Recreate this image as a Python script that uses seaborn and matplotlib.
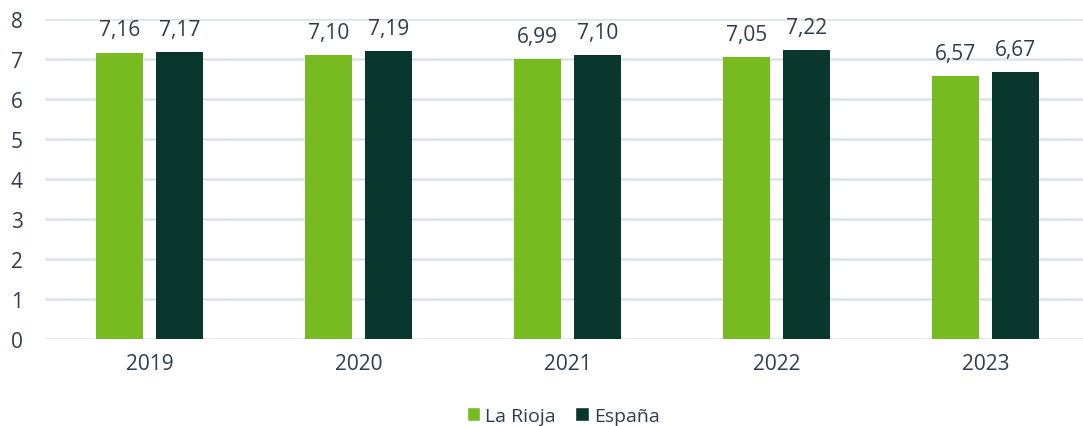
import matplotlib
matplotlib.use("Agg")
import matplotlib.pyplot as plt
import seaborn as sns
import pandas as pd
from matplotlib.patches import Patch

years = ["2019", "2020", "2021", "2022", "2023"]
la_rioja = [7.16, 7.10, 6.99, 7.05, 6.57]
espana = [7.17, 7.19, 7.10, 7.22, 6.67]
series_names = ["La Rioja", "España"]
colors = ["#78BB21", "#0A372D"]
text_color = "#2E3D4D"

df = pd.DataFrame({
    "year": years * 2,
    "value": la_rioja + espana,
    "serie": [series_names[0]] * len(years) + [series_names[1]] * len(years),
})

sns.set_theme(style="white")
plt.rcParams['font.family'] = ['Open Sans', 'DejaVu Sans']

fig = plt.figure(figsize=(10.83, 4.27), dpi=100)
ax = fig.add_axes([45 / 1083, 87 / 427, 1045 / 1083, 320 / 427])

sns.barplot(data=df, x="year", y="value", hue="serie", palette=colors,
            width=0.574, gap=0.217, ax=ax, legend=False, saturation=1,
            edgecolor="none", linewidth=0)

ax.set_ylim(0, 8)
ax.set_xlim(-0.5, 4.5)
ax.set_yticks(range(0, 9))
ax.yaxis.grid(True, color="#DCE3EA", linewidth=1.8)
ax.set_axisbelow(True)
for s in ax.spines.values():
    s.set_visible(False)
ax.set_xlabel("")
ax.set_ylabel("")
ax.tick_params(axis="both", length=0, labelsize=15, colors=text_color)
ax.tick_params(axis="y", pad=16)
ax.tick_params(axis="x", pad=10)

for cont in ax.containers:
    ax.bar_label(cont, labels=[f"{v:.2f}".replace(".", ",") for v in cont.datavalues],
                 padding=9, fontsize=15, color=text_color)

handles = [Patch(facecolor=c, label=n) for c, n in zip(colors, series_names)]
fig.legend(handles=handles, loc="center", bbox_to_anchor=(563 / 1083, 10 / 427),
           ncol=2, frameon=False, fontsize=14, handlelength=0.7, handleheight=0.7,
           handletextpad=0.25, columnspacing=1.0, labelcolor=text_color,
           borderpad=0.1)

fig.savefig("out.png", dpi=100)
